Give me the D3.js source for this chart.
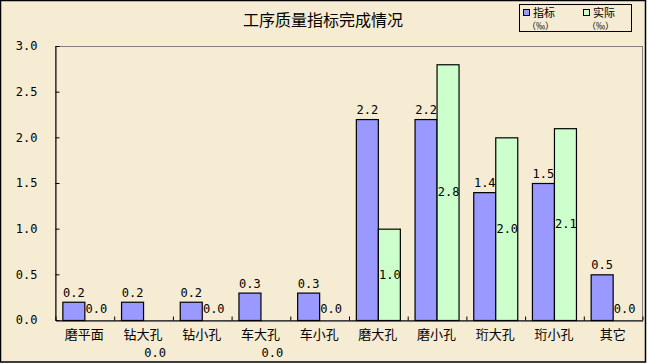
<!DOCTYPE html>
<html>
<head>
<meta charset="utf-8">
<script src="https://cdn.jsdelivr.net/npm/d3@7"></script>
<style>
  html, body { margin: 0; padding: 0; background: #ffffff; }
  svg { display: block; }
</style>
</head>
<body>
<svg id="chart" width="647" height="364"></svg>
<script>
const categories = ["磨平面", "钻大孔", "钻小孔", "车大孔", "车小孔", "磨大孔", "磨小孔", "珩大孔", "珩小孔", "其它"];
const targetValues = [0.2, 0.2, 0.2, 0.3, 0.3, 2.2, 2.2, 1.4, 1.5, 0.5];
const actualValues = [0.0, 0.0, 0.0, 0.0, 0.0, 1.0, 2.8, 2.0, 2.1, 0.0];
const yTickValues = [0, 0.5, 1.0, 1.5, 2.0, 2.5, 3.0];
const seriesNames = ["指标", "实际"];
const unitLabel = "（‰）";
const title = "工序质量指标完成情况";

const rows = categories.map((c, i) => ({ cat: c, idx: i, target: targetValues[i], actual: actualValues[i] }));

const svg = d3.select("#chart");
const plot = { left: 55, right: 642, top: 46, bottom: 320 };
const monoFont = "'DejaVu Sans Mono', 'Liberation Mono', monospace";
const cjkFont = "'Noto Sans CJK SC', 'Noto Sans', sans-serif";
const blue = "#9999ff", green = "#ccffcc", bg = "#f6ecd3";

// outer frame
svg.append("rect").attr("x", 0.5).attr("y", 0.5).attr("width", 645).attr("height", 361.5)
  .attr("fill", bg).attr("stroke", "#000").attr("stroke-width", 1.5);

const x = d3.scaleBand().domain(categories).range([plot.left, plot.right]).paddingInner(0).paddingOuter(0);
const y = d3.scaleLinear().domain([0, 3]).range([plot.bottom, plot.top]);
const barW = 22;

// plot area border
svg.append("rect").attr("x", plot.left + 0.5).attr("y", plot.top + 0.5)
  .attr("width", plot.right - plot.left).attr("height", plot.bottom - plot.top)
  .attr("fill", "none").attr("stroke", "#808080").attr("stroke-width", 1);

// title
svg.append("text").attr("x", 323).attr("y", 26).attr("text-anchor", "middle")
  .attr("font-family", cjkFont).attr("font-size", 16).attr("fill", "#000").text(title);

// y axis
const yAxis = d3.axisLeft(y).tickValues(yTickValues).tickFormat(d3.format(".1f"))
  .tickSizeInner(-4).tickSizeOuter(0).tickPadding(18);
const gy = svg.append("g").attr("transform", `translate(${plot.left + 0.5},0)`).call(yAxis);
gy.select(".domain").attr("stroke", "#000");
gy.selectAll(".tick line").attr("stroke", "#000");
gy.selectAll(".tick text").attr("font-family", monoFont).attr("font-size", 12).attr("fill", "#000");

// bars
const groups = svg.append("g").selectAll("g").data(rows).join("g");
groups.append("rect")
  .attr("x", (d) => x(d.cat) + x.bandwidth() / 2 - barW + 0.5)
  .attr("y", (d) => y(d.target) + 0.5)
  .attr("width", barW)
  .attr("height", (d) => y(0) - y(d.target))
  .attr("fill", blue).attr("stroke", "#000").attr("stroke-width", 1.2);
groups.filter((d) => d.actual > 0).append("rect")
  .attr("x", (d) => x(d.cat) + x.bandwidth() / 2 + 0.5)
  .attr("y", (d) => y(d.actual) + 0.5)
  .attr("width", barW)
  .attr("height", (d) => y(0) - y(d.actual))
  .attr("fill", green).attr("stroke", "#000").attr("stroke-width", 1.2);

// x axis (category boundary ticks)
const xb = d3.scaleLinear().domain([0, categories.length]).range([plot.left, plot.right]);
const xAxisTicks = d3.axisBottom(xb).ticks(categories.length).tickSizeInner(-4).tickSizeOuter(0).tickFormat("");
const gxb = svg.append("g").attr("transform", `translate(0.5,${plot.bottom + 0.5})`).call(xAxisTicks);
gxb.select(".domain").attr("stroke", "#000");
gxb.selectAll(".tick line").attr("stroke", "#000");

const xAxis = d3.axisBottom(x).tickSize(0).tickPadding(10);
const gx = svg.append("g").attr("transform", `translate(0,${plot.bottom})`).call(xAxis);
gx.select(".domain").remove();
gx.selectAll(".tick text").attr("font-family", cjkFont).attr("font-size", 13).attr("fill", "#000");

// labels: target above bars
const fmt = d3.format(".1f");
groups.append("text")
  .attr("x", (d) => x(d.cat) + x.bandwidth() / 2 - barW / 2 + 0.5)
  .attr("y", (d) => y(d.target) - 5)
  .attr("text-anchor", "middle").attr("font-family", monoFont).attr("font-size", 12).attr("fill", "#000")
  .text((d) => fmt(d.target));

// labels: actual centred in bars (zero values nudged off the axis)
const zeroBelow = new Set([1, 3]);
groups.append("text")
  .attr("x", (d) => x(d.cat) + x.bandwidth() / 2 + barW / 2 + 1)
  .attr("y", (d) => {
    if (d.actual > 0) return (y(d.actual) + y(0)) / 2;
    return zeroBelow.has(d.idx) ? y(0) + 33 : y(0) - 11;
  })
  .attr("dy", "0.35em")
  .attr("text-anchor", "middle").attr("font-family", monoFont).attr("font-size", 12).attr("fill", "#000")
  .text((d) => fmt(d.actual));

// legend
const lg = svg.append("g");
lg.append("rect").attr("x", 519.5).attr("y", 4.5).attr("width", 112).attr("height", 27)
  .attr("fill", bg).attr("stroke", "#000").attr("stroke-width", 1);
const legendColors = [blue, green];
seriesNames.forEach((name, i) => {
  const ox = 523 + i * 60;
  lg.append("rect").attr("x", ox + 0.5).attr("y", 9.5).attr("width", 6).attr("height", 6)
    .attr("fill", legendColors[i]).attr("stroke", "#000").attr("stroke-width", 1);
  lg.append("text").attr("x", ox + 10).attr("y", 16.5).attr("font-family", cjkFont).attr("font-size", 11)
    .attr("fill", "#000").text(name);
  lg.append("text").attr("x", ox + 4).attr("y", 29).attr("font-family", cjkFont).attr("font-size", 9)
    .attr("fill", "#000").text(unitLabel);
});
</script>
</body>
</html>
